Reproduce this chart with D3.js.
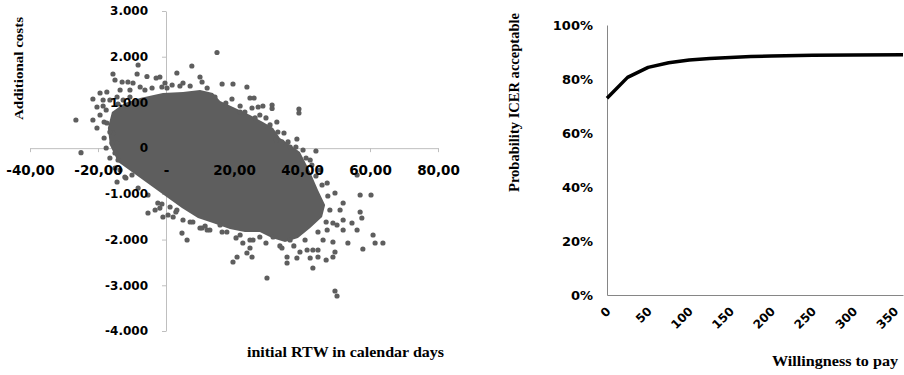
<!DOCTYPE html>
<html>
<head>
<meta charset="utf-8">
<script src="https://cdn.jsdelivr.net/npm/d3@7"></script>
<style>
  body { margin: 0; background: #fff; }
  svg { display: block; }
  .title { font-family: "Liberation Serif", "DejaVu Serif", serif; font-weight: bold; fill: #000; }
</style>
</head>
<body>
<svg width="904" height="375"></svg>
<script>
// left panel: cost-effectiveness plane
var planeXTicks = [-40, -20, 0, 20, 40, 60, 80];
var planeYTicks = [-4000, -3000, -2000, -1000, 0, 1000, 2000, 3000];

// outline of the solid core of the bootstrap cloud (days, euro)
var cloudOutline = [
  [-15.9, 790], [-12.1, 987], [-7.6, 1097], [-0.9, 1206], [5.0, 1228], [10.0, 1272],
  [13.8, 1206], [15.9, 1031], [19.7, 900], [24.7, 725], [28.5, 572], [31.5, 440],
  [33.5, 222], [36.5, 69], [39.4, -84], [42.4, -522], [44.7, -916], [46.8, -1244],
  [45.9, -1506], [42.4, -1747], [38.8, -1965], [35.0, -2053], [31.2, -1965], [27.6, -1834],
  [23.2, -1834], [18.8, -1769], [13.8, -1638], [9.4, -1528], [4.7, -1310], [0.6, -1091],
  [-4.7, -806], [-10.0, -522], [-14.1, -303], [-16.5, 69], [-17.1, 440]
];

// replications lying along the rim of the core
var rimPoints = [
  [-6.2, 1272], [-4.1, 1316], [7.1, 1359], [12.1, 1316], [14.4, 1119], [17.6, 987],
  [21.8, 922], [23.2, 790], [26.2, 660], [29.4, 660], [30.0, 463], [34.7, 331],
  [32.4, 178], [35.9, 135], [38.2, 25], [40.3, -41], [41.2, -216], [42.9, -369],
  [44.1, -609], [45.9, -806], [47.6, -1047], [48.2, -1353], [47.1, -1616], [44.7, -1834],
  [40.9, -2009], [37.6, -2140], [33.5, -2140], [29.4, -2075], [24.7, -2009], [20.6, -1965],
  [16.5, -1834], [11.5, -1703], [7.1, -1616], [2.9, -1397], [-1.2, -1222], [-5.3, -1025],
  [-8.2, -872], [-11.8, -653], [-15.0, -434], [-16.5, -216], [-17.6, 3], [-18.2, 222],
  [-18.2, 572], [-17.6, 834], [-14.1, 966], [-10.6, 1119]
];

// replications that stand out around the core (days, euro)
var cloudPoints = [
  [15.0, 2092], [-26.5, 616], [-25.0, -100], [-15.6, 1622], [-8.2, 1819], [-8.5, 1622],
  [-5.6, 1567], [-2.9, 1534], [-1.8, 1556], [3.2, 1644], [7.6, 1797], [10.0, 1556],
  [10.6, 1447], [5.0, 1425], [4.1, 1359], [1.8, 1381], [0.3, 1316], [-0.3, 1425],
  [-21.5, 1075], [-19.4, 1206], [-17.4, 1228], [-20.3, 900], [-21.5, 616], [-20.3, 441],
  [-19.4, 725], [-17.4, 550], [-18.5, 1053], [-16.5, 1053], [-13.5, 1272], [-14.4, 1119],
  [-12.6, 1053], [-10.6, 1272], [-9.7, 1425], [-7.6, 1337], [-11.2, 1447], [-12.9, 1447],
  [-15.0, 1491], [-18.5, 922], [-15.6, 331], [-14.4, 112], [-15.0, -106], [-14.1, -259],
  [-16.5, 353], [-15.9, 112], [-1.2, 1337], [16.5, 1403], [19.7, 1403], [23.8, 1337],
  [24.7, 1097], [25.9, 1097], [19.4, 1075], [31.2, 944], [31.2, 867], [28.5, 922],
  [27.1, 900], [25.3, 878], [39.1, 856], [39.1, 769], [32.6, 572], [30.6, 507],
  [32.9, 353], [38.5, 200], [44.1, -63], [34.1, 135], [36.5, 25], [21.8, 790],
  [27.6, 725], [56.2, -588], [57.1, -1025], [60.3, -1025], [49.7, -981], [52.1, -1200],
  [51.2, -1353], [57.1, -1397], [52.1, -1572], [54.7, -1638], [57.6, -1528], [56.2, -1791],
  [57.9, -2206], [53.5, -2075], [50.3, -1681], [49.1, -2053], [47.4, -1791], [46.2, -2009],
  [44.7, -2228], [43.2, -2228], [41.5, -2228], [39.4, -2272], [42.4, -2403], [44.7, -2381],
  [47.1, -2447], [49.1, -2381], [43.2, -2622], [38.5, -2403], [35.6, -2513], [35.6, -2381],
  [34.1, -2184], [29.7, -2841], [49.7, -3125], [50.3, -3234], [19.7, -2491], [20.9, -2381],
  [23.8, -2294], [25.3, -2381], [24.7, -2184], [25.6, -2009], [22.6, -2075], [10.0, -1747],
  [12.1, -1791], [15.9, -1681], [17.9, -1834], [21.8, -1900], [27.6, -1944], [31.5, -1944],
  [36.5, -2009], [60.9, -1900], [63.8, -2075], [61.5, -2075], [52.1, -1791], [49.1, -1638],
  [49.7, -2272], [-14.4, -741], [-12.1, -631], [-10.0, -588], [-13.5, -478], [-5.3, -1419],
  [-3.2, -1353], [-1.8, -1310], [-0.9, -1506], [0.6, -1463], [2.1, -1506], [4.7, -1857],
  [6.2, -2009], [5.0, -1572], [7.9, -1616], [10.6, -1747], [-2.4, -1200], [3.2, -1353],
  [1.2, -1288], [12.9, -1791], [47.4, -763], [45.3, -478], [42.4, -259]
];

// right panel: acceptability curve
var wtp = [0, 25, 50, 75, 100, 125, 150, 175, 200, 250, 300, 360];
var probAcceptable = [0.729, 0.806, 0.843, 0.860, 0.870, 0.876, 0.880, 0.883, 0.885, 0.888, 0.889, 0.890];
var wtpTicks = [0, 50, 100, 150, 200, 250, 300, 350];
var probTicks = [0, 0.2, 0.4, 0.6, 0.8, 1];

var svg = d3.select("svg");
var dotColor = "#5e5e5e";
var tickFont = '"DejaVu Sans", Verdana, sans-serif';

var nl = d3.formatLocale({ decimal: ",", thousands: ".", grouping: [3], currency: ["€", ""], minus: "-" });
var formatDays = nl.format(",.2f"),
  formatCost = nl.format(",d");

// ---- left panel ----
var x = d3.scaleLinear().domain([-40, 80]).range([30, 438]);
var y = d3.scaleLinear().domain([-4000, 3000]).range([331, 11]);

var xAxis = d3.axisBottom(x)
  .tickValues(planeXTicks)
  .tickSize(4).tickSizeOuter(0).tickPadding(13)
  .tickFormat(function (d) { return d === 0 ? "-" : formatDays(d); });
var yAxis = d3.axisLeft(y)
  .tickValues(planeYTicks)
  .tickSize(4).tickSizeOuter(0).tickPadding(14)
  .tickFormat(formatCost);

// axis lines go under the cloud, labels over it
var xLines = svg.append("g").attr("transform", "translate(0," + y(0) + ")").call(xAxis);
var yLines = svg.append("g").attr("transform", "translate(" + x(0) + ",0)").call(yAxis);
[xLines, yLines].forEach(function (g) {
  g.selectAll("text").remove();
  g.selectAll(".domain, line").attr("stroke", "#bfbfbf");
});

svg.append("path")
  .datum(cloudOutline)
  .attr("fill", dotColor)
  .attr("d", d3.line()
    .x(function (d) { return x(d[0]); })
    .y(function (d) { return y(d[1]); })
    .curve(d3.curveLinearClosed));

svg.append("g").selectAll("circle")
  .data(rimPoints.concat(cloudPoints))
  .enter().append("circle")
  .attr("cx", function (d) { return x(d[0]); })
  .attr("cy", function (d) { return y(d[1]); })
  .attr("r", 2.6)
  .attr("fill", dotColor);

var xLabels = svg.append("g").attr("transform", "translate(0," + y(0) + ")").call(xAxis)
  .attr("font-family", tickFont).attr("font-size", 13.5).attr("font-weight", "bold");
var yLabels = svg.append("g").attr("transform", "translate(" + x(0) + ",0)").call(yAxis)
  .attr("font-family", tickFont).attr("font-size", 12).attr("font-weight", "bold");
[xLabels, yLabels].forEach(function (g) {
  g.selectAll(".domain, line").remove();
  g.selectAll("text").attr("fill", "#000");
});

svg.append("text").attr("class", "title")
  .attr("transform", "translate(22.5,68.5) rotate(-90)")
  .attr("text-anchor", "middle")
  .attr("font-size", 13)
  .attr("textLength", 103).attr("lengthAdjust", "spacingAndGlyphs")
  .text("Additional costs");

svg.append("text").attr("class", "title")
  .attr("x", 345.5).attr("y", 357)
  .attr("text-anchor", "middle")
  .attr("font-size", 15)
  .attr("textLength", 197).attr("lengthAdjust", "spacingAndGlyphs")
  .text("initial RTW in calendar days");

// ---- right panel ----
var x2 = d3.scaleLinear().domain([0, 360]).range([607, 903]);
var y2 = d3.scaleLinear().domain([0, 1]).range([295, 25]);

var y2Axis = svg.append("g")
  .attr("transform", "translate(" + x2(0) + ",0)")
  .call(d3.axisLeft(y2).tickValues(probTicks).tickSize(0).tickPadding(14).tickFormat(d3.format(".0%")))
  .attr("font-family", tickFont).attr("font-size", 13).attr("font-weight", "bold");

var x2Axis = svg.append("g")
  .attr("transform", "translate(0," + y2(0) + ")")
  .call(d3.axisBottom(x2).tickValues(wtpTicks).tickSize(0).tickSizeOuter(0))
  .attr("font-family", tickFont).attr("font-size", 12).attr("font-weight", "bold");

x2Axis.selectAll("text")
  .attr("x", 0).attr("y", 0).attr("dy", "0.35em")
  .attr("text-anchor", "end")
  .attr("transform", "translate(1,14) rotate(-45)");

[y2Axis, x2Axis].forEach(function (g) {
  g.select(".domain").attr("stroke", "#868686");
  g.selectAll("text").attr("fill", "#000");
});

svg.append("path")
  .datum(d3.zip(wtp, probAcceptable))
  .attr("fill", "none")
  .attr("stroke", "#000")
  .attr("stroke-width", 3.5)
  .attr("stroke-linejoin", "round")
  .attr("d", d3.line()
    .x(function (d) { return x2(d[0]); })
    .y(function (d) { return y2(d[1]); }));

svg.append("text").attr("class", "title")
  .attr("transform", "translate(519,102.5) rotate(-90)")
  .attr("text-anchor", "middle")
  .attr("font-size", 14)
  .attr("textLength", 179).attr("lengthAdjust", "spacingAndGlyphs")
  .text("Probability ICER acceptable");

svg.append("text").attr("class", "title")
  .attr("x", 835).attr("y", 366)
  .attr("text-anchor", "middle")
  .attr("font-size", 14)
  .attr("textLength", 126).attr("lengthAdjust", "spacingAndGlyphs")
  .text("Willingness to pay");
</script>
</body>
</html>
